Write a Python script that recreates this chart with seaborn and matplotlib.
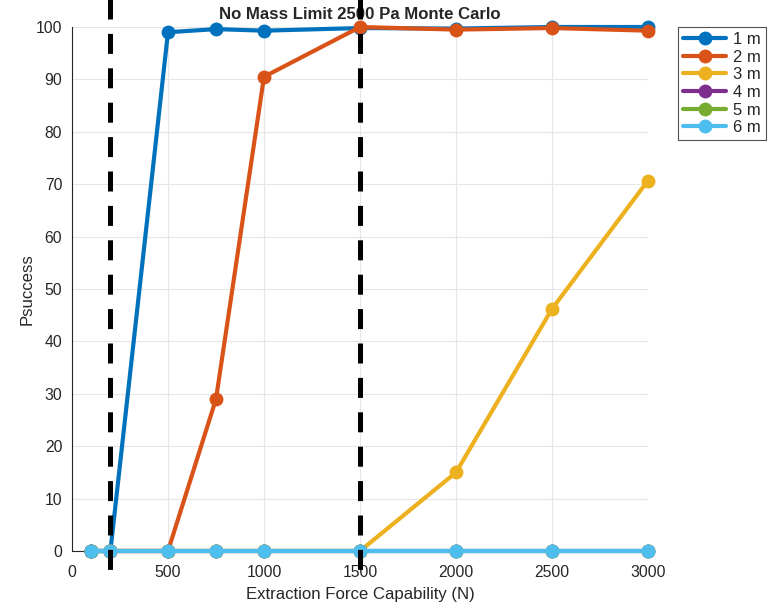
import numpy as np
import pandas as pd
import matplotlib
matplotlib.use("Agg")
import matplotlib.pyplot as plt
import seaborn as sns
from matplotlib.lines import Line2D

force = [100, 200, 500, 750, 1000, 1500, 2000, 2500, 3000]
p_1m = [0, 0, 99.0, 99.6, 99.3, 99.8, 99.7, 100.0, 100.0]
p_2m = [0, 0, 0, 29.0, 90.5, 100.0, 99.5, 99.8, 99.3]
p_3m = [0, 0, 0, 0, 0, 0, 15.0, 46.2, 70.7]
p_4m = [0, 0, 0, 0, 0, 0, 0, 0, 0]
p_5m = [0, 0, 0, 0, 0, 0, 0, 0, 0]
p_6m = [0, 0, 0, 0, 0, 0, 0, 0, 0]
labels = ["1 m", "2 m", "3 m", "4 m", "5 m", "6 m"]
vlines_x = [200, 1500]
xticks = [0, 500, 1000, 1500, 2000, 2500, 3000]
yticks = list(range(0, 101, 10))

colors = ["#0072BD", "#D95319", "#EDB120", "#7E2F8E", "#77AC30", "#4DBEEE"]

rows = []
for lab, vals in zip(labels, [p_1m, p_2m, p_3m, p_4m, p_5m, p_6m]):
    for f, v in zip(force, vals):
        rows.append({"force": f, "p": v, "dist": lab})
df = pd.DataFrame(rows)

sns.set_theme(style="white")
plt.rcParams["font.family"] = ["Liberation Sans", "DejaVu Sans"]

fig = plt.figure(figsize=(7.75, 6.02), dpi=100)
ax = fig.add_axes([72/775, 1-551/602, 576/775, 524/602])

sns.lineplot(data=df, x="force", y="p", hue="dist", palette=colors,
             hue_order=labels, marker="o", markersize=10, linewidth=3,
             markeredgewidth=0, ax=ax, legend=False, zorder=3)
for ln in ax.lines:
    ln.set_clip_on(False)

for xv in vlines_x:
    ax.plot([xv, xv], [107.1, -5.9], color="black", linewidth=3.6,
            linestyle=(0, (4, 2.88)), clip_on=False, zorder=5,
            solid_capstyle="butt", dash_capstyle="butt")

ax.set_xlim(0, 3000)
ax.set_ylim(0, 100)
ax.set_xticks(xticks)
ax.set_yticks(yticks)
ax.grid(True, color="#e6e6e6", linewidth=0.8)
ax.set_axisbelow(True)
for s in ["top", "right"]:
    ax.spines[s].set_visible(False)
for s in ["left", "bottom"]:
    ax.spines[s].set_color("#262626")
    ax.spines[s].set_linewidth(0.8)
ax.tick_params(axis="both", direction="in", length=5, width=0.8,
               colors="#262626", labelsize=11.3)
ax.tick_params(axis="x", pad=10)
ax.tick_params(axis="y", pad=7)
ax.set_xlabel("Extraction Force Capability (N)", fontsize=12.1, color="#262626", labelpad=5)
ax.set_ylabel("Psuccess", fontsize=12.1, color="#262626", labelpad=1)
ax.set_title("No Mass Limit 2500 Pa Monte Carlo", fontsize=12.1,
             fontweight="bold", pad=6)

handles = [Line2D([0], [0], color=c, marker="o", markersize=10, linewidth=3,
                  markeredgewidth=0) for c in colors]
leg = ax.legend(handles, labels, loc="upper left", bbox_to_anchor=(1.052, 1.0),
                borderaxespad=0, fontsize=12, frameon=True, fancybox=False,
                handlelength=2.6, handletextpad=0.4, labelspacing=0.16,
                borderpad=0.3)
leg.get_frame().set_edgecolor("#262626")
leg.get_frame().set_linewidth(0.8)

fig.savefig("out.png", dpi=100)
